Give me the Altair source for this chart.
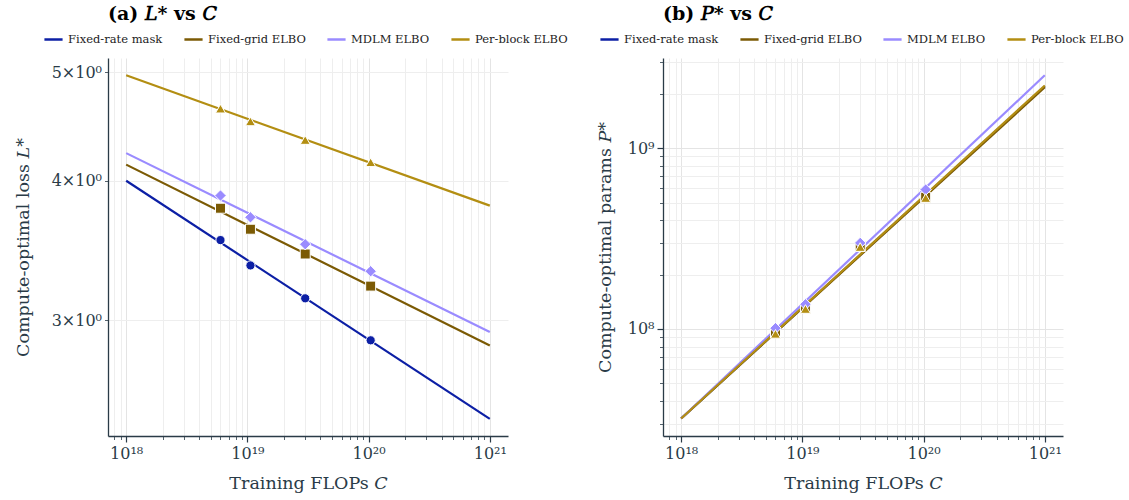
import altair as alt
import pandas as pd

# ---------------- data ----------------
methods = ["Fixed-rate mask", "Fixed-grid ELBO", "MDLM ELBO", "Per-block ELBO"]
colors = ["#0c1fa5", "#7b5a04", "#9a8bff", "#b38e12"]
shapes = ["circle", "square", "diamond", "triangle-up"]
marker_sizes = [85, 100, 130, 100]

# measured compute budgets (points) and fit-line extent
C_pts = [6.0e18, 1.06e19, 3.0e19, 1.04e20]
C_fit = [1e18, 1e21]

# (a) compute-optimal loss
L_pts_fixed_rate = [3.54, 3.36, 3.14, 2.88]
L_pts_fixed_grid = [3.78, 3.62, 3.44, 3.22]
L_pts_mdlm = [3.88, 3.71, 3.51, 3.32]
L_pts_per_block = [4.64, 4.52, 4.35, 4.155]

L_fit_fixed_rate = [4.00, 2.45]
L_fit_fixed_grid = [4.135, 2.85]
L_fit_mdlm = [4.234, 2.93]
L_fit_per_block = [4.97, 3.80]

# (b) compute-optimal params
P_pts_fixed_rate = [9.6e7, 1.31e8, 2.90e8, 5.4e8]
P_pts_fixed_grid = [9.5e7, 1.30e8, 2.86e8, 5.35e8]
P_pts_mdlm = [1.01e8, 1.37e8, 2.99e8, 5.9e8]
P_pts_per_block = [9.4e7, 1.29e8, 2.84e8, 5.3e8]

P_fit_fixed_rate = [3.2e7, 2.20e9]
P_fit_fixed_grid = [3.2e7, 2.17e9]
P_fit_mdlm = [3.2e7, 2.53e9]
P_fit_per_block = [3.2e7, 2.22e9]

# tick values
x_ticks = [8e17, 9e17] + [m * 10.0 ** e for e in (18, 19, 20) for m in range(1, 10)] + [1e21]
yL_ticks = [3, 4, 5]
yP_ticks = [m * 1e7 for m in range(3, 10)] + [m * 1e8 for m in range(1, 10)] + [1e9, 2e9, 3e9]


def long_table(xs, series):
    rows = []
    for k, (m, vals) in enumerate(zip(methods, series)):
        for x, v in zip(xs, vals):
            rows.append({"C": x, "val": v, "method": m, "order": k})
    return pd.DataFrame(rows)


L_pts = long_table(C_pts, [L_pts_fixed_rate, L_pts_fixed_grid, L_pts_mdlm, L_pts_per_block])
L_fit = long_table(C_fit, [L_fit_fixed_rate, L_fit_fixed_grid, L_fit_mdlm, L_fit_per_block])
P_pts = long_table(C_pts, [P_pts_fixed_rate, P_pts_fixed_grid, P_pts_mdlm, P_pts_per_block])
P_fit = long_table(C_fit, [P_fit_fixed_rate, P_fit_fixed_grid, P_fit_mdlm, P_fit_per_block])

FONT = "DejaVu Serif"
AX = "#2a3b47"
MAJOR = "abs(log(datum.value)/LN10 - round(log(datum.value)/LN10)) < 1e-6"

x_label_expr = ("datum.value == 1e18 ? '10¹⁸' : datum.value == 1e19 ? '10¹⁹' : "
                "datum.value == 1e20 ? '10²⁰' : datum.value == 1e21 ? '10²¹' : ''")


def x_enc():
    return alt.X(
        "C:Q",
        scale=alt.Scale(type="log", domain=[7.08e17, 1.413e21], nice=False),
        axis=alt.Axis(
            values=x_ticks,
            labelExpr=x_label_expr,
            title="Training FLOPs 𝐶",
            tickSize={"condition": {"test": MAJOR, "value": 6}, "value": 3.5},
            tickWidth={"condition": {"test": MAJOR, "value": 1.2}, "value": 0.8},
            gridColor={"condition": {"test": MAJOR, "value": "#e4e4e4"}, "value": "#eeeeee"},
        ),
    )


color_scale = alt.Scale(domain=methods, range=colors)


def make_legend(x):
    return alt.Legend(
        orient="none",
        direction="horizontal",
        legendX=x,
        legendY=-29,
        title=None,
        symbolType="stroke",
        symbolSize=330,
        symbolStrokeWidth=2.5,
        labelFont=FONT,
        labelFontSize=11.5,
        labelColor="#222222",
        labelOffset=4,
        columnPadding=16,
        symbolOffset=0,
        padding=0,
    )


def panel(fit, pts, y_scale, y_axis, title, lx):
    y = alt.Y("val:Q", scale=y_scale, axis=y_axis)
    lines = alt.Chart(fit).mark_line(strokeWidth=2.2).encode(
        x=x_enc(), y=y,
        color=alt.Color("method:N", scale=color_scale, legend=make_legend(lx), sort=methods),
        detail="method:N",
        order="order:Q",
    )
    layers = [lines]
    for m, c, s, n in zip(methods, colors, shapes, marker_sizes):
        layers.append(
            alt.Chart(pts).transform_filter(alt.datum.method == m)
            .mark_point(filled=True, opacity=1, stroke="white", strokeWidth=1,
                        fill=c, shape=s, size=n)
            .encode(x=x_enc(), y=y)
        )
    return alt.layer(*layers).properties(
        width=400, height=378,
        title=alt.TitleParams(text=title, anchor="start", frame="group", font=FONT, fontSize=19,
                              fontWeight="bold", color="black", offset=5),
    )


yL_axis = alt.Axis(
    values=yL_ticks,
    labelExpr="datum.value + '×10⁰'",
    title="Compute-optimal loss 𝐿*",
    titleX=-76,
    tickSize=3.5, tickWidth=0.8,
    gridColor="#eeeeee",
)
yP_axis = alt.Axis(
    values=yP_ticks,
    labelExpr="datum.value == 1e8 ? '10⁸' : datum.value == 1e9 ? '10⁹' : ''",
    title="Compute-optimal params 𝑃*",
    titleX=-49,
    tickSize={"condition": {"test": MAJOR, "value": 6}, "value": 3.5},
    tickWidth={"condition": {"test": MAJOR, "value": 1.2}, "value": 0.8},
    gridColor={"condition": {"test": MAJOR, "value": "#e4e4e4"}, "value": "#eeeeee"},
)

left = panel(L_fit, L_pts, alt.Scale(type="log", domain=[2.365, 5.15], nice=False), yL_axis,
             "(a) 𝐿* vs 𝐶", -65)
right = panel(P_fit, P_pts, alt.Scale(type="log", domain=[2.56e7, 3.15e9], nice=False), yP_axis,
              "(b) 𝑃* vs 𝐶", -64)

chart = (
    alt.hconcat(left, right, spacing=28)
    .resolve_scale(color="independent")
    .resolve_legend(color="independent")
    .properties(padding={"left": 14, "top": 5, "right": 5, "bottom": 5})
    .configure_view(stroke=None)
    .configure_axis(
        labelFont=FONT, labelFontSize=16, labelColor=AX,
        titleFont=FONT, titleFontSize=17.5, titleColor=AX, titleFontWeight="normal",
        domainColor=AX, domainWidth=1.3, tickColor=AX,
        grid=True, gridWidth=1,
        labelPadding=3,
    )
    .configure_axisX(titlePadding=13)
)

chart.save("out.html", embed_options={"renderer": "svg", "actions": False})
